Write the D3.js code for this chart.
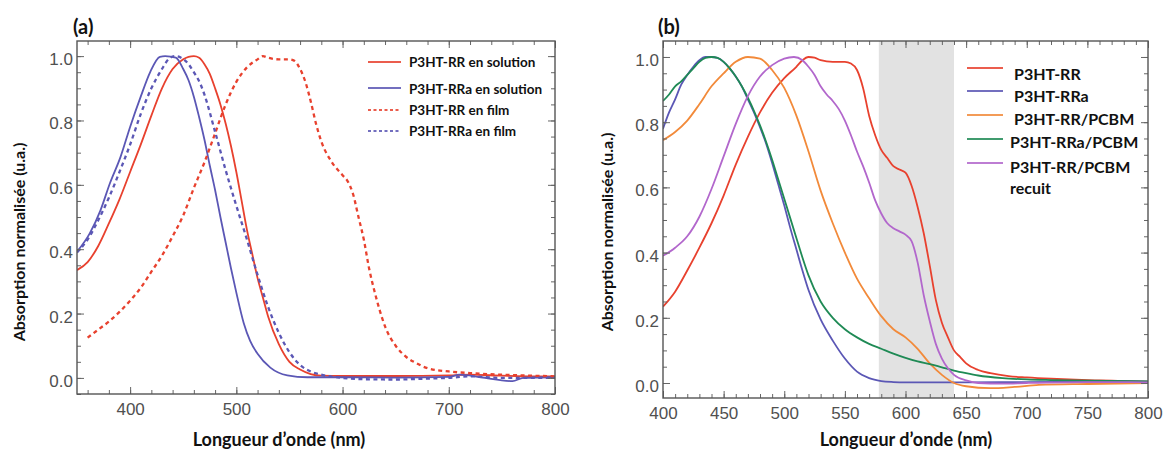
<!DOCTYPE html>
<html><head><meta charset="utf-8">
<script src="https://cdn.jsdelivr.net/npm/d3@7"></script>
<style>
html,body{margin:0;padding:0;background:#fff;}
svg{display:block;}
</style></head>
<body>
<svg id="chart" width="1168" height="453"></svg>
<script>
// ---------- Panel (a) data ----------
const aRRsolWl  = [350,360,370,380,390,400,410,420,430,440,450,455,460,465,470,475,480,485,490,495,500,505,510,515,520,525,530,540,550,560,570,580,600,650,700,720,750,780,800];
const aRRsolAbs = [0.335,0.36,0.41,0.48,0.555,0.64,0.725,0.815,0.90,0.96,0.99,0.998,1.0,0.995,0.975,0.945,0.90,0.85,0.79,0.72,0.64,0.55,0.46,0.385,0.31,0.25,0.19,0.105,0.05,0.026,0.012,0.007,0.006,0.006,0.008,0.01,0.007,0.005,0.005];

const aRRasolWl  = [350,362,372,381,391,400,410,419,428,433,443,450,455,460,465,470,475,480,485,490,495,500,507,513,520,532,548,567,600,650,700,710,730,760,770,800];
const aRRasolAbs = [0.392,0.449,0.52,0.605,0.687,0.78,0.874,0.951,0.998,1.0,0.995,0.96,0.925,0.874,0.81,0.74,0.66,0.584,0.50,0.42,0.34,0.265,0.17,0.115,0.075,0.032,0.008,0.002,0.002,0.001,0.003,0.01,0.002,-0.01,0.0,0.002];

const aRRfilmWl  = [360,370,380,390,400,410,420,430,440,450,460,470,480,490,500,510,520,525,530,540,550,555,560,565,570,575,580,590,600,605,610,615,620,625,630,635,640,650,660,670,680,700,720,750,800];
const aRRfilmAbs = [0.125,0.15,0.175,0.205,0.24,0.28,0.33,0.38,0.44,0.505,0.59,0.67,0.76,0.85,0.92,0.965,0.99,1.0,0.995,0.99,0.99,0.985,0.96,0.92,0.86,0.79,0.735,0.67,0.63,0.61,0.57,0.50,0.43,0.34,0.27,0.21,0.16,0.10,0.065,0.045,0.03,0.02,0.015,0.01,0.005];

const aRRafilmWl  = [350,360,370,380,390,400,410,420,430,436,442,448,455,460,466,470,480,490,500,510,520,530,540,550,560,570,580,600,620,650,680,700,720,750,800];
const aRRafilmAbs = [0.39,0.43,0.49,0.56,0.64,0.725,0.82,0.90,0.96,0.99,1.0,0.995,0.975,0.95,0.915,0.88,0.765,0.645,0.535,0.43,0.32,0.22,0.14,0.08,0.04,0.02,0.01,0.0,-0.004,-0.005,-0.002,0.0,0.005,0.0,0.0];

// ---------- Panel (b) data ----------
const bRRWl  = [400,410,420,430,440,450,460,470,480,490,500,510,515,520,525,530,540,550,555,560,565,570,575,580,585,590,595,600,605,610,615,620,625,630,635,640,645,650,660,670,685,700,720,740,760,780,800];
const bRRAbs = [0.234,0.28,0.345,0.415,0.49,0.575,0.67,0.755,0.83,0.89,0.935,0.97,0.99,1.0,0.998,0.99,0.985,0.985,0.98,0.96,0.905,0.82,0.76,0.715,0.69,0.665,0.655,0.645,0.605,0.54,0.46,0.36,0.255,0.185,0.14,0.10,0.08,0.06,0.04,0.03,0.021,0.017,0.013,0.01,0.008,0.006,0.004];

const bRRaWl  = [400,405,410,415,420,425,430,435,440,445,450,455,460,465,470,475,480,485,490,495,500,505,510,515,520,530,540,550,560,570,580,590,600,650,700,750,780,800];
const bRRaAbs = [0.78,0.83,0.87,0.915,0.945,0.97,0.99,1.0,1.0,0.997,0.985,0.965,0.94,0.91,0.87,0.83,0.785,0.735,0.675,0.61,0.545,0.475,0.41,0.345,0.285,0.195,0.13,0.075,0.035,0.015,0.006,0.003,0.002,0.002,0.003,0.004,0.006,0.004];

const bRRPCBMWl  = [400,410,420,430,440,450,460,470,480,490,500,510,520,530,540,550,560,570,580,590,600,610,620,630,640,650,670,690,710,750,800];
const bRRPCBMAbs = [0.745,0.77,0.805,0.855,0.91,0.95,0.985,1.0,0.995,0.96,0.905,0.82,0.71,0.59,0.49,0.40,0.32,0.26,0.205,0.165,0.14,0.105,0.06,0.025,0.0,-0.01,-0.016,-0.012,-0.006,-0.003,0.0];

const bRRaPCBMWl  = [400,405,410,415,420,425,430,435,440,445,450,455,460,465,470,475,480,485,490,495,500,505,510,515,520,530,540,550,560,570,580,590,600,610,620,630,640,650,660,680,700,720,750,800];
const bRRaPCBMAbs = [0.865,0.885,0.91,0.925,0.945,0.965,0.985,0.997,1.0,0.997,0.985,0.965,0.94,0.91,0.875,0.835,0.79,0.74,0.685,0.625,0.565,0.505,0.445,0.385,0.33,0.25,0.20,0.165,0.14,0.12,0.105,0.09,0.077,0.066,0.058,0.048,0.038,0.03,0.023,0.015,0.011,0.009,0.007,0.005];

const bRecuitWl  = [400,410,420,430,440,450,460,470,480,490,500,508,515,520,525,530,535,540,545,550,555,560,565,570,575,580,585,590,595,600,605,610,615,620,625,630,635,640,650,660,680,700,750,800];
const bRecuitAbs = [0.39,0.415,0.45,0.51,0.595,0.695,0.795,0.88,0.94,0.975,0.995,1.0,0.99,0.97,0.945,0.91,0.885,0.865,0.84,0.805,0.76,0.71,0.665,0.615,0.56,0.52,0.49,0.475,0.465,0.455,0.435,0.37,0.27,0.19,0.12,0.075,0.045,0.025,0.008,0.0,-0.002,0.0,0.003,0.002];

// ---------- Labels ----------
const aSeriesNames = ["P3HT-RR en solution","P3HT-RRa en solution","P3HT-RR en film","P3HT-RRa en film"];
const bSeriesNames = ["P3HT-RR","P3HT-RRa","P3HT-RR/PCBM","P3HT-RRa/PCBM","P3HT-RR/PCBM\nrecuit"];
const aXTicks = [400,500,600,700,800];
const bXTicks = [400,450,500,550,600,650,700,750,800];
const yTicks = [0.0,0.2,0.4,0.6,0.8,1.0];
const bBand = [578,640];
const xTitle = "Longueur d\u2019onde (nm)";
const yTitle = "Absorption normalisée (u.a.)";

// ---------- Drawing ----------
const svg = d3.select("#chart");
const TF = "'Liberation Sans', Arial, sans-serif";
const BF = "Lato, 'Open Sans', sans-serif";

function zip(w, a){ return w.map((x,i)=>[x,a[i]]); }

function drawPanel(cfg){
  const {x, y, xTicks, xMinorStep, label, labelX} = cfg;
  const g = svg.append("g");
  const [x0,x1] = x.range(), [y0,y1] = y.range();
  const clipId = "clip"+label.replace(/\W/g,"");
  svg.append("clipPath").attr("id",clipId).append("rect")
    .attr("x",x0).attr("y",y1).attr("width",x1-x0).attr("height",y0-y1);

  if (cfg.band){
    g.append("rect").attr("x",x(cfg.band[0])).attr("y",y1)
      .attr("width",x(cfg.band[1])-x(cfg.band[0])).attr("height",y0-y1)
      .attr("fill","#e2e2e2");
  }

  const line = d3.line().x(d=>x(d[0])).y(d=>y(d[1])).curve(d3.curveMonotoneX);
  const cg = g.append("g").attr("clip-path",`url(#${clipId})`);
  cfg.series.forEach(s=>{
    cg.append("path").attr("d",line(zip(s.wl,s.abs)))
      .attr("fill","none").attr("stroke",s.color).attr("stroke-width",s.width||1.8)
      .attr("stroke-dasharray",s.dash||null).attr("stroke-linejoin","round");
  });

  const [dx0,dx1] = x.domain();
  const minorX = d3.range(Math.ceil(dx0/xMinorStep)*xMinorStep, dx1+0.001, xMinorStep);
  const minorY = d3.range(-0.05,1.05,0.05).map(v=>Math.round(v*100)/100).filter(v=>v>=y.domain()[0]&&v<=y.domain()[1]);

  function styleAxis(ax){
    ax.select(".domain").remove();
    ax.selectAll("line").attr("stroke","#666").attr("stroke-width",1);
    ax.selectAll("text").attr("fill","#505050").attr("font-size",17).attr("font-family",TF);
  }
  const mb = g.append("g").attr("transform",`translate(0,${y0})`).call(d3.axisBottom(x).tickValues(minorX).tickSize(-4).tickFormat("")); styleAxis(mb);
  const mt = g.append("g").attr("transform",`translate(0,${y1})`).call(d3.axisTop(x).tickValues(minorX).tickSize(-4).tickFormat("")); styleAxis(mt);
  const ml = g.append("g").attr("transform",`translate(${x0},0)`).call(d3.axisLeft(y).tickValues(minorY).tickSize(-4).tickFormat("")); styleAxis(ml);
  const mr = g.append("g").attr("transform",`translate(${x1},0)`).call(d3.axisRight(y).tickValues(minorY).tickSize(-4).tickFormat("")); styleAxis(mr);
  const ab = g.append("g").attr("transform",`translate(0,${y0})`).call(d3.axisBottom(x).tickValues(xTicks).tickSize(-7).tickPadding(9).tickFormat(d3.format("d"))); styleAxis(ab);
  const al = g.append("g").attr("transform",`translate(${x0},0)`).call(d3.axisLeft(y).tickValues(yTicks).tickSize(-7).tickPadding(4).tickFormat(d3.format(".1f"))); styleAxis(al);
  al.selectAll("text").attr("dy","0.5em");
  const at = g.append("g").attr("transform",`translate(0,${y1})`).call(d3.axisTop(x).tickValues(xTicks).tickSize(-7).tickFormat("")); styleAxis(at);
  const ar = g.append("g").attr("transform",`translate(${x1},0)`).call(d3.axisRight(y).tickValues(yTicks).tickSize(-7).tickFormat("")); styleAxis(ar);

  g.append("rect").attr("x",x0).attr("y",y1).attr("width",x1-x0).attr("height",y0-y1)
    .attr("fill","none").attr("stroke","#555").attr("stroke-width",1.4);

  g.append("text").attr("x",labelX).attr("y",34).text(label)
    .attr("font-family",BF).attr("font-weight",700).attr("font-size",20).attr("fill","#111");
  g.append("text").attr("x",cfg.xTitleX).attr("y",446).attr("text-anchor","middle").text(xTitle)
    .attr("font-family",BF).attr("font-weight",700).attr("font-size",18).attr("fill","#111");
  g.append("text").attr("transform",`translate(${cfg.yTitleX},${cfg.yTitleY}) rotate(-90)`)
    .attr("text-anchor","middle").text(yTitle)
    .attr("font-family",BF).attr("font-weight",700).attr("font-size",16).attr("fill","#111");

  const lg = g.append("g");
  cfg.legend.forEach(it=>{
    lg.append("line").attr("x1",it.lx0).attr("x2",it.lx1).attr("y1",it.ly).attr("y2",it.ly)
      .attr("stroke",it.color).attr("stroke-width",it.width||2).attr("stroke-dasharray",it.dash||null)
      .attr("opacity",0.85);
    it.name.split("\n").forEach((t,k)=>{
      lg.append("text").attr("x",it.tx).attr("y",it.ty + k*cfg.legendLineH).attr("dy","0.35em").text(t)
        .attr("font-family",BF).attr("font-weight",700).attr("font-size",cfg.legendFont).attr("fill","#111");
    });
  });
}

const red="#e8412e", blue="#5b57b5", orange="#f28a3a", green="#1f8a55", purple="#b267cc";

drawPanel({
  label:"(a)", labelX:73,
  x: d3.scaleLinear([350,800],[77,555]),
  y: d3.scaleLinear([-0.05,1.047],[394,41]),
  xTicks:aXTicks, xMinorStep:20,
  xTitleX:279, yTitleX:25, yTitleY:242,
  series:[
    {wl:aRRsolWl, abs:aRRsolAbs, color:red},
    {wl:aRRasolWl, abs:aRRasolAbs, color:blue},
    {wl:aRRfilmWl, abs:aRRfilmAbs, color:red, dash:"4,3.5", width:2.3},
    {wl:aRRafilmWl, abs:aRRafilmAbs, color:blue, dash:"4,3.5", width:2.3}
  ],
  legendFont:13.5, legendLineH:16,
  legend:[
    {name:aSeriesNames[0], color:red, lx0:368, lx1:401, ly:62, tx:409, ty:62},
    {name:aSeriesNames[1], color:blue, lx0:368, lx1:401, ly:88, tx:409, ty:89},
    {name:aSeriesNames[2], color:red, dash:"3,2.5", lx0:368, lx1:401, ly:110, tx:409, ty:110},
    {name:aSeriesNames[3], color:blue, dash:"3,2.5", lx0:368, lx1:401, ly:131, tx:409, ty:131}
  ]
});

drawPanel({
  label:"(b)", labelX:658,
  x: d3.scaleLinear([400,800],[663,1148]),
  y: d3.scaleLinear([-0.046,1.049],[398,41]),
  xTicks:bXTicks, xMinorStep:10, band:bBand,
  xTitleX:906, yTitleX:613, yTitleY:232,
  series:[
    {wl:bRRWl, abs:bRRAbs, color:red},
    {wl:bRRaWl, abs:bRRaAbs, color:blue},
    {wl:bRRPCBMWl, abs:bRRPCBMAbs, color:orange},
    {wl:bRRaPCBMWl, abs:bRRaPCBMAbs, color:green},
    {wl:bRecuitWl, abs:bRecuitAbs, color:purple}
  ],
  legendFont:16, legendLineH:21,
  legend:[
    {name:bSeriesNames[0], color:red, lx0:967, lx1:1003, ly:68, tx:1014, ty:74},
    {name:bSeriesNames[1], color:blue, lx0:967, lx1:1003, ly:91, tx:1014, ty:96},
    {name:bSeriesNames[2], color:orange, lx0:967, lx1:1003, ly:115, tx:1014, ty:119},
    {name:bSeriesNames[3], color:green, lx0:967, lx1:1003, ly:139, tx:1010, ty:142},
    {name:bSeriesNames[4], color:purple, lx0:967, lx1:1003, ly:163, tx:1010, ty:167}
  ]
});
</script>
</body></html>
